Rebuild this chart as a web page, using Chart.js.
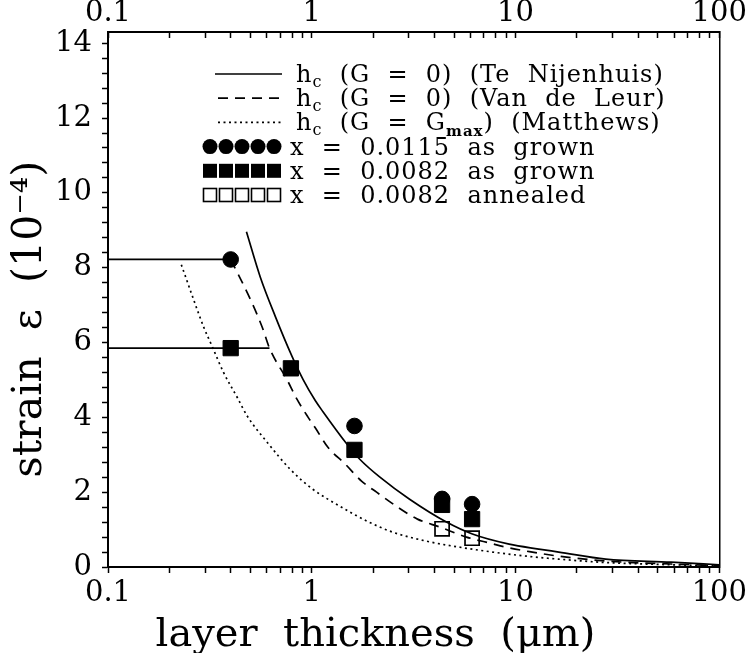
<!DOCTYPE html>
<html>
<head>
<meta charset="utf-8">
<script src="https://cdn.jsdelivr.net/npm/chart.js@4.4.1/dist/chart.umd.min.js"></script>
<style>
  html, body { margin: 0; padding: 0; background: #fff; }
  #wrap { width: 754px; height: 653px; }
</style>
</head>
<body>
<div id="wrap"><canvas id="myChart"></canvas></div>
<script>
// thickness in um, strain in 1e-4
const nijenhuis_x = [0.478, 0.558, 0.662, 0.80, 0.907, 1.04, 1.135, 1.49, 1.72, 2.16, 3.02, 4.58, 6.14, 9.3, 13, 16.3, 27.7, 58, 100]
const nijenhuis_y = [8.96, 7.76, 6.7, 5.63, 5.01, 4.45, 4.15, 3.28, 2.88, 2.40, 1.81, 1.2, 0.88, 0.61, 0.48, 0.40, 0.21, 0.13, 0.06]

const vandeleur_x = [0.40, 0.50, 0.572, 0.62, 0.757, 0.847, 0.96, 1.04, 1.2, 1.46, 1.76, 2.08, 2.64, 3.3, 4.24, 5.74, 7.6, 9.0, 11.7, 16.3, 27.7, 58, 100]
const vandeleur_y = [8.22, 7.15, 6.4, 5.85, 5.0, 4.48, 4.0, 3.72, 3.2, 2.75, 2.29, 2.0, 1.6, 1.28, 1.07, 0.8, 0.63, 0.53, 0.41, 0.29, 0.16, 0.08, 0.04]

const matthews_x = [0.229, 0.263, 0.294, 0.326, 0.369, 0.431, 0.483, 0.605, 0.784, 1.01, 1.37, 1.86, 2.5, 3.66, 5.3, 7.7, 11.3, 16.3, 27.7, 58, 100]
const matthews_y = [8.08, 7.15, 6.43, 5.87, 5.2, 4.53, 4.03, 3.33, 2.61, 2.08, 1.63, 1.23, 0.93, 0.69, 0.53, 0.40, 0.29, 0.21, 0.12, 0.06, 0.03]

// plateaus below the critical thickness
const plateau_high_x = [0.1, 0.40]
const plateau_high_y = [8.22, 8.22]
const plateau_low_x = [0.1, 0.62]
const plateau_low_y = [5.85, 5.85]

// measured samples
const grown_0115_x = [0.40, 1.62, 4.36, 6.12]
const grown_0115_y = [8.22, 3.77, 1.82, 1.68]
const grown_0082_x = [0.40, 0.79, 1.62, 4.36, 6.12]
const grown_0082_y = [5.85, 5.31, 3.13, 1.66, 1.28]
const annealed_0082_x = [4.36, 6.12]
const annealed_0082_y = [1.02, 0.77]

const x_tick_labels = ['0.1', '1', '10', '100']
const y_tick_labels = ['0', '2', '4', '6', '8', '10', '12', '14']

const FONT = 'DejaVu Serif'
const LINE_W = 1.7

function points(xs, ys){
    return xs.map((x, i) => ({x: x, y: ys[i]}))
}

function curve(xs, ys, dash){
    return {
        data: points(xs, ys),
        showLine: true,
        pointRadius: 0,
        borderColor: '#000',
        borderWidth: LINE_W,
        borderDash: dash,
        cubicInterpolationMode: 'monotone',
        fill: false
    }
}

function markers(xs, ys, style, radius, filled){
    return {
        data: points(xs, ys),
        showLine: false,
        pointStyle: style,
        pointRadius: radius,
        pointHoverRadius: radius,
        pointBackgroundColor: filled ? '#000' : 'rgba(0,0,0,0)',
        pointBorderColor: '#000',
        pointBorderWidth: filled ? 1 : 1.7
    }
}

// log axis: keep 1..9 x 10^n only
function integer_mantissa(scale){
    scale.ticks = scale.ticks.filter(t => {
        const m = t.value / Math.pow(10, Math.floor(Math.log10(t.value) + 1e-9))
        return Math.abs(m - Math.round(m)) < 1e-6
    })
}

function decade_label(value){
    const e = Math.log10(value)
    if(Math.abs(e - Math.round(e)) > 1e-6)
        return ''
    return x_tick_labels[Math.round(e) + 1]
}

function strain_label(value){
    if(Math.abs(value / 2 - Math.round(value / 2)) > 1e-6)
        return ''
    return y_tick_labels[Math.round(value / 2)]
}

// legend rows: sample + text pieces [text, kind]
const legend_rows = [
    {sample: 'line', dash: [], text: [['h', 'n'], ['c', 'sub'], ['  (G  =  0)  (Te  Nijenhuis)', 'n']]},
    {sample: 'line', dash: [10, 7], text: [['h', 'n'], ['c', 'sub'], ['  (G  =  0)  (Van  de  Leur)', 'n']]},
    {sample: 'line', dash: [2, 3.5], text: [['h', 'n'], ['c', 'sub'], ['  (G  =  G', 'n'], ['max', 'subb'], [')  (Matthews)', 'n']]},
    {sample: 'circle', text: [['x  =  0.0115  as  grown', 'n']]},
    {sample: 'square', text: [['x  =  0.0082  as  grown', 'n']]},
    {sample: 'open', text: [['x  =  0.0082  annealed', 'n']]}
]

const legendBox = {
    id: 'legendBox',
    afterDraw(chart){
        const ctx = chart.ctx
        const top = 74
        const gap = 24.2
        ctx.save()
        ctx.fillStyle = '#000'
        ctx.strokeStyle = '#000'
        ctx.textBaseline = 'alphabetic'
        legend_rows.forEach((row, i) => {
            const cy = top + i * gap
            let tx = 290
            if(row.sample == 'line'){
                ctx.lineWidth = LINE_W
                ctx.setLineDash(row.dash)
                ctx.beginPath()
                ctx.moveTo(row.dash.length ? 218 : 215, cy)
                ctx.lineTo(282, cy)
                ctx.stroke()
                ctx.setLineDash([])
                tx = 296
            } else {
                for(let k = 0; k < 5; k++){
                    const px = 210 + k * 16
                    ctx.beginPath()
                    if(row.sample == 'circle'){
                        ctx.arc(px, cy, 7.5, 0, Math.PI * 2)
                        ctx.fill()
                    } else if(row.sample == 'square'){
                        ctx.fillRect(px - 7, cy - 7, 14, 14)
                    } else {
                        ctx.lineWidth = 1.6
                        ctx.strokeRect(px - 6.5, cy - 6.5, 13, 13)
                    }
                }
            }
            const base = cy + 8
            for(const [str, kind] of row.text){
                let dy = 0
                if(kind == 'sub'){
                    ctx.font = '16px "' + FONT + '"'
                    dy = 5
                } else if(kind == 'subb'){
                    ctx.font = 'bold 15px "' + FONT + '"'
                    dy = 6
                } else {
                    ctx.font = '24px "' + FONT + '"'
                }
                ctx.letterSpacing = '1px'
                ctx.fillText(str, tx, base + dy)
                tx += ctx.measureText(str).width
            }
        })
        ctx.restore()
    }
}

const axis_font = {family: FONT, size: 29}

const ctx = document.getElementById('myChart').getContext('2d')

new Chart(ctx, {
    type: 'scatter',
    data: {
        datasets: [
            markers(grown_0115_x, grown_0115_y, 'circle', 7.8, true),
            markers(grown_0082_x, grown_0082_y, 'rect', 10.8, true),
            markers(annealed_0082_x, annealed_0082_y, 'rect', 10, false),
            curve(plateau_high_x, plateau_high_y, []),
            curve(plateau_low_x, plateau_low_y, []),
            curve(nijenhuis_x, nijenhuis_y, []),
            curve(vandeleur_x, vandeleur_y, [10, 7]),
            curve(matthews_x, matthews_y, [2, 3.5])
        ]
    },
    options: {
        responsive: true,
        maintainAspectRatio: false,
        animation: false,
        events: [],
        layout: { padding: 0 },
        plugins: {
            legend: { display: false },
            tooltip: { enabled: false }
        },
        scales: {
            x: {
                type: 'logarithmic',
                position: 'bottom',
                min: 0.1,
                max: 100,
                afterBuildTicks: integer_mantissa,
                afterFit: s => { s.height = 86 },
                grid: { drawOnChartArea: false, tickLength: 6, tickWidth: 1.5, tickColor: '#000' },
                border: { color: '#000', width: 2 },
                ticks: { autoSkip: false, maxRotation: 0, padding: 3, color: '#000', font: axis_font, callback: decade_label },
                title: {
                    display: true,
                    // trailing spaces move the centred title left
                    text: 'layer  thickness  (μm)      ',
                    color: '#000',
                    padding: 0,
                    font: {family: FONT, size: 40, lineHeight: '34px'}
                }
            },
            x2: {
                type: 'logarithmic',
                position: 'top',
                min: 0.1,
                max: 100,
                afterBuildTicks: integer_mantissa,
                afterFit: s => { s.height = 32 },
                grid: { drawOnChartArea: false, tickLength: -6, tickWidth: 1.5, tickColor: '#000' },
                border: { color: '#000', width: 2 },
                ticks: { autoSkip: false, maxRotation: 0, padding: 7, color: '#000', font: axis_font, callback: decade_label }
            },
            y: {
                type: 'linear',
                position: 'left',
                min: 0,
                max: 14.3,
                afterFit: s => { s.width = 108 },
                grid: { drawOnChartArea: false, tickLength: 6, tickWidth: 1.5, tickColor: '#000' },
                border: { color: '#000', width: 2 },
                ticks: { stepSize: 0.4, includeBounds: false, autoSkip: false, padding: 10, color: '#000', font: axis_font, callback: strain_label },
                title: {
                    display: true,
                    text: 'strain  ε  (10⁻⁴)   ',
                    color: '#000',
                    padding: {top: 10, bottom: 0},
                    font: {family: FONT, size: 41, lineHeight: '40px'}
                }
            },
            y2: {
                type: 'linear',
                position: 'right',
                min: 0,
                max: 14.3,
                afterFit: s => { s.width = 33 },
                grid: { drawOnChartArea: false, drawTicks: false },
                border: { color: '#000', width: 1.5 },
                ticks: { display: false }
            }
        }
    },
    plugins: [legendBox]
})
</script>
</body>
</html>
